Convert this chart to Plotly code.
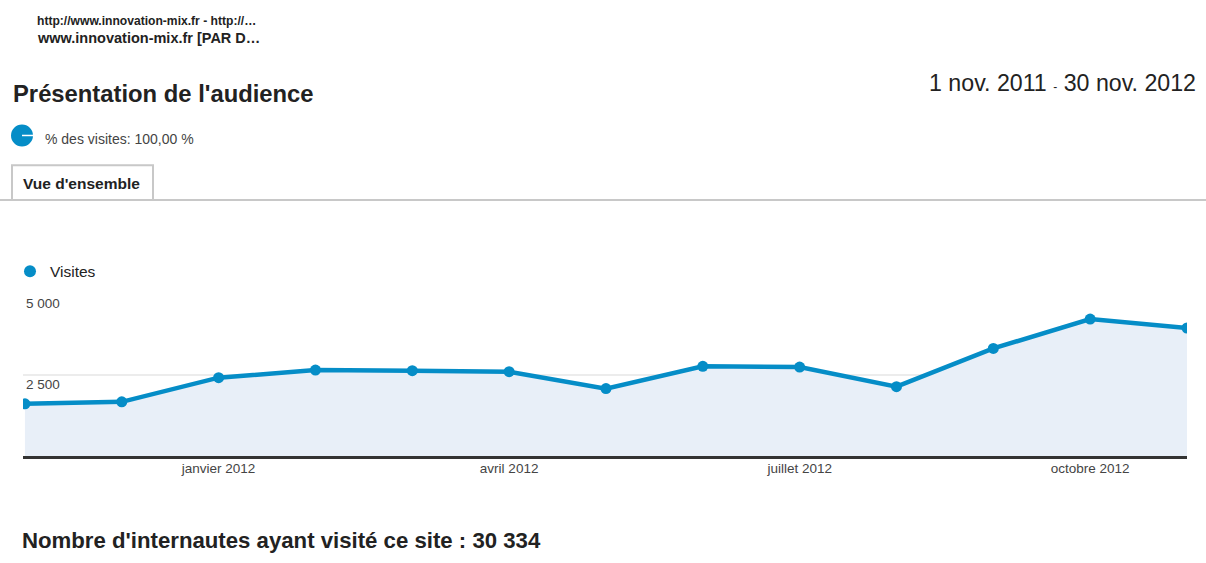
import plotly.graph_objects as go

months = ["nov. 2011", "déc. 2011", "janv. 2012", "févr. 2012", "mars 2012", "avr. 2012",
          "mai 2012", "juin 2012", "juil. 2012", "août 2012", "sept. 2012", "oct. 2012", "nov. 2012"]
visites = [1610, 1672, 2417, 2653, 2632, 2601, 2080, 2767, 2745, 2141, 3319, 4227, 3951]
x_tick_months = ["janv. 2012", "avr. 2012", "juil. 2012", "oct. 2012"]
x_tick_labels = ["janvier 2012", "avril 2012", "juillet 2012", "octobre 2012"]
y_tick_vals = [2500, 5000]
y_tick_labels = ["2 500", "5 000"]

W, H = 1206, 563
L, R = 23, 1187
T, B = 293.5, 456.5
PW, PH = R - L, B - T

def px(xp):
    return (xp - L) / PW

def py(yp):
    return (B - yp) / PH

FONT = "Arial, Liberation Sans, sans-serif"
BLUE = "#058DC7"
DX = -2  # annotation internal padding compensation

fig = go.Figure()
fig.add_trace(go.Scatter(
    x=months, y=visites, mode="lines+markers",
    line=dict(color=BLUE, width=4.5),
    marker=dict(color=BLUE, size=11),
    fill="tozeroy", fillcolor="#e8eff8",
    showlegend=False, cliponaxis=True,
))
fig.add_trace(go.Scatter(
    x=[None], y=[None], mode="markers", name="Visites",
    marker=dict(color=BLUE, size=12), showlegend=True,
))

fig.update_layout(
    width=W, height=H,
    margin=dict(l=L, r=W - R, t=T, b=H - B, pad=0, autoexpand=False),
    paper_bgcolor="white", plot_bgcolor="white",
    font=dict(family=FONT, size=12, color="#444"),
    xaxis=dict(
        range=[-0.02, 12.0], showgrid=False, zeroline=False,
        tickmode="array", tickvals=x_tick_months, ticktext=x_tick_labels,
        ticks="", showline=True, linecolor="#333", linewidth=3,
        ticklabelstandoff=-2,
        tickfont=dict(size=13.5, color="#444", family=FONT),
    ),
    yaxis=dict(
        range=[0, 5000], tickmode="array", tickvals=y_tick_vals, ticktext=y_tick_labels,
        showgrid=True, gridcolor="#ececec", gridwidth=2, zeroline=False,
        ticklabelposition="inside bottom", ticks="",
        tickfont=dict(size=13.5, color="#444", family=FONT),
    ),
    legend=dict(
        x=px(10), y=py(271), xanchor="left", yanchor="middle",
        font=dict(size=15.5, color="#222", family=FONT),
        bgcolor="rgba(0,0,0,0)", itemwidth=30,
    ),
    showlegend=True,
)

annotations = [
    dict(text="<b>http://www.innovation-mix.fr - http://…</b>", x=px(37 + DX), y=py(19),
         font=dict(size=12.1, color="#222")),
    dict(text="<b>www.innovation-mix.fr [PAR D…</b>", x=px(37 + DX), y=py(36),
         font=dict(size=14.5, color="#222")),
    dict(text="<b>Présentation de l'audience</b>", x=px(13 + DX), y=py(92),
         font=dict(size=23.8, color="#222")),
    dict(text="% des visites: 100,00 %", x=px(45 + DX), y=py(138),
         font=dict(size=14, color="#444")),
    dict(text="<b>Vue d'ensemble</b>", x=px(23 + DX), y=py(182),
         font=dict(size=15.5, color="#222")),
    dict(text="<b>Nombre d'internautes ayant visité ce site : 30 334</b>", x=px(22 + DX), y=py(542),
         font=dict(size=22.2, color="#222")),
]
for a in annotations:
    a.update(xref="paper", yref="paper", xanchor="left", yanchor="middle", showarrow=False)
    a["font"]["family"] = FONT
fig.update_layout(annotations=annotations)
fig.add_annotation(
    text="1 nov. 2011 <span style='font-size:12px'>-</span> 30 nov. 2012",
    x=px(1196 + 2), y=py(81), xref="paper", yref="paper", xanchor="right", yanchor="middle",
    showarrow=False, font=dict(size=23.2, color="#222", family=FONT),
)

shapes = [
    # pie icon
    dict(type="circle", x0=px(11), x1=px(33), y0=py(145), y1=py(123),
         fillcolor=BLUE, line=dict(width=0)),
    dict(type="line", x0=px(22), x1=px(33), y0=py(134), y1=py(134),
         line=dict(color="white", width=1.5)),
    # separator line under tabs
    dict(type="line", x0=px(0), x1=px(1206), y0=py(199), y1=py(199),
         line=dict(color="#c8c8c8", width=2)),
    # tab box
    dict(type="rect", x0=px(12), x1=px(153), y0=py(199), y1=py(164),
         fillcolor="white", line=dict(color="#c8c8c8", width=2)),
]
for s in shapes:
    s.update(xref="paper", yref="paper", layer="below")
fig.update_layout(shapes=shapes)

fig.write_html("out.html")
